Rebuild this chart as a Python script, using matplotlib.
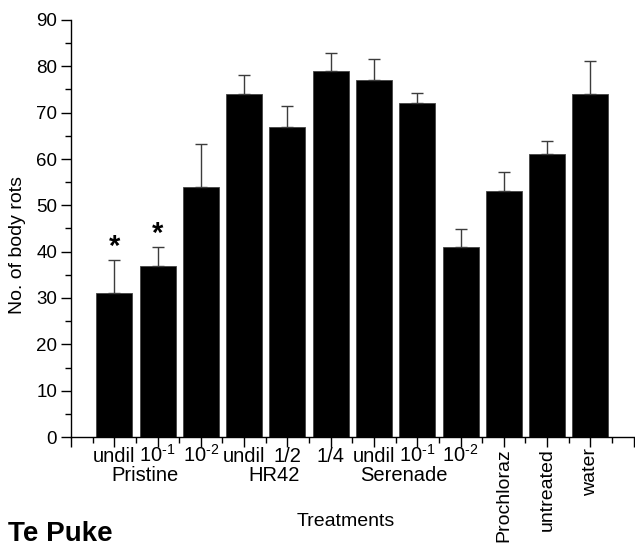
import matplotlib
matplotlib.use("Agg")
import matplotlib.pyplot as plt
import matplotlib.transforms as mtransforms
import numpy as np

plt.rcParams['font.family'] = ['Liberation Sans', 'DejaVu Sans']
plt.rcParams['mathtext.fontset'] = 'custom'
plt.rcParams['mathtext.rm'] = 'Liberation Sans'
plt.rcParams['mathtext.it'] = 'Liberation Sans:italic'
plt.rcParams['mathtext.bf'] = 'Liberation Sans:bold'

# ---- data ----
sub_labels = ['undil', '10$^{\u2010\\mathrm{1}}$', '10$^{\u2010\\mathrm{2}}$', 'undil', '1/2', '1/4',
              'undil', '10$^{\u2010\\mathrm{1}}$', '10$^{\u2010\\mathrm{2}}$']
rot_labels = ['Prochloraz', 'untreated', 'water']
group_labels = ['Pristine', 'HR42', 'Serenade']
group_members = [[0, 1, 2], [3, 4, 5], [6, 7, 8]]
means = [31, 37, 54, 74, 67, 79, 77, 72, 41, 53, 61, 74]
errors = [7.1, 3.9, 9.3, 4.1, 4.4, 3.8, 4.5, 2.3, 3.9, 4.3, 2.8, 7.2]
significant = [True, True, False, False, False, False, False, False, False, False, False, False]
y_ticks = [0, 10, 20, 30, 40, 50, 60, 70, 80, 90]

W, H = 635, 546
fig = plt.figure(figsize=(W / 100, H / 100), dpi=100)
ax = fig.add_axes([71 / W, (H - 437) / H, (635 - 71) / W, (437 - 20) / H])

x = np.arange(1, len(means) + 1)
ax.bar(x, means, width=0.83, color='black', edgecolor='#444444', linewidth=0.6, zorder=2)
ax.errorbar(x, means, yerr=[np.zeros(len(errors)), errors], fmt='none',
            ecolor='#3c3c3c', elinewidth=1.0, capsize=4.5, capthick=1.0, zorder=3)

for xi, m, e, s in zip(x, means, errors, significant):
    if s:
        ax.text(xi, m + e + 1.1, '*', ha='center', va='baseline', fontsize=21,
                fontweight='bold', zorder=4)

ax.set_xlim(0, 13.03)
ax.set_ylim(0, 90)
ax.set_yticks(y_ticks)
ax.set_yticklabels([str(v) for v in y_ticks], fontsize=13.5)
ax.set_yticks(np.arange(5, 90, 10), minor=True)
ax.set_xticks(np.arange(0, 14))
ax.set_xticklabels([])
ax.set_xticks(np.arange(0.5, 13, 1), minor=True)
ax.tick_params(axis='both', which='major', direction='out', length=7, width=1, color='black')
ax.tick_params(axis='both', which='minor', direction='out', length=4, width=1, color='black')
ax.tick_params(axis='y', which='major', pad=3)
for sp in ['top', 'right']:
    ax.spines[sp].set_visible(False)
for sp in ['left', 'bottom']:
    ax.spines[sp].set_linewidth(1.0)

trans = mtransforms.blended_transform_factory(ax.transData, fig.transFigure)
for i, lab in enumerate(sub_labels):
    ax.text(x[i], (H - 462) / H, lab, transform=trans, ha='center', va='baseline',
            fontsize=14.5, clip_on=False)
for lab, mem in zip(group_labels, group_members):
    cx = np.mean([x[j] for j in mem]) - 0.3
    ax.text(cx, (H - 481) / H, lab, transform=trans, ha='center', va='baseline',
            fontsize=14.5, clip_on=False)
for k, lab in enumerate(rot_labels):
    ax.text(x[len(sub_labels) + k], (H - 448) / H, lab, transform=trans, ha='center',
            va='top', rotation=90, fontsize=14, clip_on=False)

fig.text(346 / W, (H - 522) / H, 'Treatments', ha='center', va='center', fontsize=14)
fig.text(18 / W, (H - 245) / H, 'No. of body rots', ha='center', va='center',
         rotation=90, fontsize=14)
fig.text(8 / W, (H - 541) / H, 'Te Puke', ha='left', va='baseline', fontsize=20,
         fontweight='bold')

fig.savefig('out.png', dpi=100)
